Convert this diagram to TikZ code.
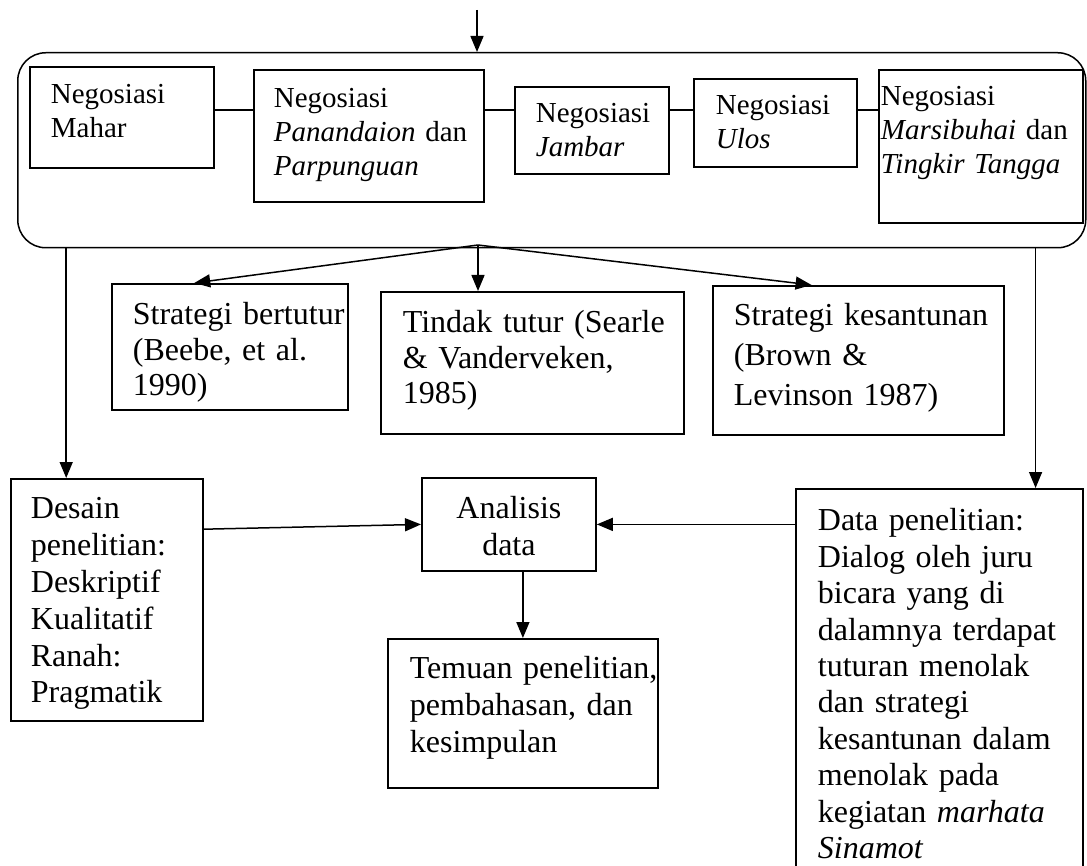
\documentclass[tikz,border=0pt]{standalone}
\usepackage{fontspec}
\setmainfont{Liberation Serif}
\usetikzlibrary{arrows.meta,calc}
\hyphenpenalty=10000

\begin{document}
\begin{tikzpicture}[x=1pt,y=-1pt,line width=1.5pt,
  >={Triangle[length=16pt,width=13pt]},
  box/.style n args={3}{draw,line width=1.8pt,anchor=north west,inner ysep=0pt,
    inner xsep=21pt,align=left,text width=#1,text height=#2,text depth=#3},
  small/.style={font=\fontsize{29}{34}\selectfont},
  mid/.style={font=\fontsize{32}{35.5}\selectfont},
  big/.style={font=\fontsize{32}{36.8}\selectfont}]
  \useasboundingbox (0,0) rectangle (1087,866);
  \clip (0,0) rectangle (1087,866);

  \node[draw,rounded corners=28pt,anchor=north west,minimum width=1068pt,
    minimum height=195pt] (phase) at (17,52) {};
  \coordinate (in) at (477,10);
  \draw[->] (in) -- (in |- phase.north);

  \node[box={142pt}{37pt}{64pt},small] (mahar) at (29,66) {Negosiasi\\Mahar};
  \node[box={190pt}{38pt}{94pt},small,inner xsep=20pt] (pan) at (253,69)
    {Negosiasi\\\textit{Panandaion}~dan\\\textit{Parpunguan}};
  \node[box={112pt}{36pt}{51pt},small] (jambar) at (514,86) {Negosiasi\\\textit{Jambar}};
  \node[box={119pt}{36pt}{52pt},small,inner xsep=22pt] (ulos) at (693,78)
    {Negosiasi\\\textit{Ulos}};
  \node[box={200pt}{36pt}{117pt},small,inner xsep=2pt] (marsi) at (878,69)
    {Negosiasi\\\textit{Marsibuhai}~dan\\\textit{Tingkir~Tangga}};

  \coordinate (link) at (0,110);
  \foreach \a/\b in {mahar/pan,pan/jambar,jambar/ulos,ulos/marsi}
    \draw (\a.east |- link) -- (\b.west |- link);

  \node[box={194pt}{41pt}{85pt},mid] (bertutur) at (111,283)
    {Strategi~bertutur\\(Beebe,~et~al.\\1990)};
  \node[box={259pt}{41pt}{101pt},mid,inner xsep=22pt] (tindak) at (380,291)
    {Tindak~tutur~(Searle\\\&~Vanderveken,\\1985)};
  \node[box={249pt}{40pt}{109pt},mid,font=\fontsize{32}{40}\selectfont] (kesantunan)
    at (712,285) {Strategi~kesantunan\\(Brown~\&\\Levinson~1987)};

  \coordinate (split) at (478,245);
  \draw[->] (split) -- ($(bertutur.north west)!.35!(bertutur.north east)$);
  \draw[->] (split) -- (split |- tindak.north);
  \draw[->] (split) -- ($(kesantunan.north west)!.34!(kesantunan.north east)$);

  \node[box={152pt}{40pt}{202pt},big,inner xsep=20pt] (desain) at (10,478)
    {Desain\\penelitian:\\Deskriptif\\Kualitatif\\Ranah:\\Pragmatik};
  \node[box={154pt}{41pt}{52pt},big,inner xsep=10pt,align=center] (analisis) at (421,477)
    {Analisis\\data};
  \node[box={226pt}{40pt}{109pt},big,inner xsep=22pt] (temuan) at (387,638)
    {Temuan~penelitian,\\pembahasan,~dan\\kesimpulan};
  \node[box={243pt}{42pt}{370pt},big,font=\fontsize{32}{36.4}\selectfont,inner xsep=22pt]
    (data) at (795,488)
    {Data~penelitian:\\Dialog~oleh~juru\\bicara~yang~di\\dalamnya~terdapat\\tuturan~menolak\\dan~strategi\\kesantunan~dalam\\menolak~pada\\kegiatan~\textit{marhata}\\\textit{Sinamot}};

  \coordinate (dtop) at ($(desain.north west)!.29!(desain.north east)$);
  \draw[->] (dtop |- phase.south) -- (dtop);
  \coordinate (ftop) at ($(data.north west)!.833!(data.north east)$);
  \draw[->] (ftop |- phase.south) -- (ftop);

  \draw[->] ($(desain.north east)!.21!(desain.south east)$) -- (analisis.west);
  \draw[->] (data.west |- analisis.east) -- (analisis.east);
  \draw[->] (analisis.south -| temuan.north) -- (temuan.north);
\end{tikzpicture}
\end{document}
